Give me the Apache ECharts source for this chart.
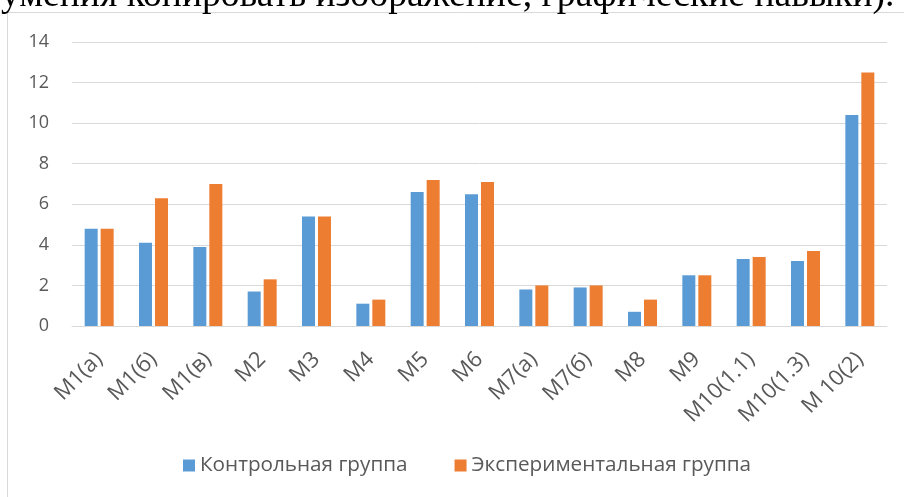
<!DOCTYPE html>
<html><head><meta charset="utf-8">
<script src="https://cdn.jsdelivr.net/npm/echarts@6/dist/echarts.min.js"></script>
<style>html,body{margin:0;padding:0;background:#fff;}#c{width:904px;height:497px;}</style>
</head><body><div id="c"></div>
<script>
const categories = ['M1(a)','M1(б)','M1(в)','M2','M3','M4','M5','M6','M7(a)','M7(б)','M8','M9','M10(1.1)','M10(1.3)','M 10(2)'];
const control = [4.8,4.1,3.9,1.7,5.4,1.1,6.6,6.5,1.8,1.9,0.7,2.5,3.3,3.2,10.4];
const experimental = [4.8,6.3,7.0,2.3,5.4,1.3,7.2,7.1,2.0,2.0,1.3,2.5,3.4,3.7,12.5];
const seriesNames = ['Контрольная группа','Экспериментальная группа'];
const headingText = 'умения копировать изображение, графические навыки).';

const chart = echarts.init(document.getElementById('c'));
chart.setOption({
  animation:false,
  backgroundColor:'#fff',
  graphic:[
    {type:'rect',shape:{x:7.5,y:12.5,width:1000,height:600},style:{fill:'none',stroke:'#d9d9d9',lineWidth:1},z:-1},
    {type:'text',x:1,y:-4,style:{text:headingText,font:'37.6px "Liberation Serif"',fill:'#000',verticalAlign:'middle',align:'left'},z:10}
  ],
  grid:{left:72,right:17,top:42,bottom:171},
  legend:{bottom:16,left:178,itemWidth:12,itemHeight:12,itemGap:47,icon:'rect',
    textStyle:{fontFamily:'Open Sans',fontSize:20.7,color:'#595959'},data:seriesNames},
  xAxis:{type:'category',data:categories,
    axisLine:{lineStyle:{color:'#d9d9d9',width:1}},axisTick:{show:false},
    axisLabel:{rotate:45,interval:0,fontFamily:'Open Sans',fontSize:22,color:'#595959',margin:30}},
  yAxis:{type:'value',min:0,max:14,interval:2,
    axisLine:{show:false},axisTick:{show:false},
    splitLine:{lineStyle:{color:'#d9d9d9',width:1}},
    axisLabel:{fontFamily:'Open Sans',fontSize:18,color:'#595959',margin:23}},
  series:[
    {name:seriesNames[0],type:'bar',data:control,barWidth:13,barGap:'23%',itemStyle:{color:'#5B9BD5'}},
    {name:seriesNames[1],type:'bar',data:experimental,barWidth:13,itemStyle:{color:'#ED7D31'}}
  ]
});
</script></body></html>
